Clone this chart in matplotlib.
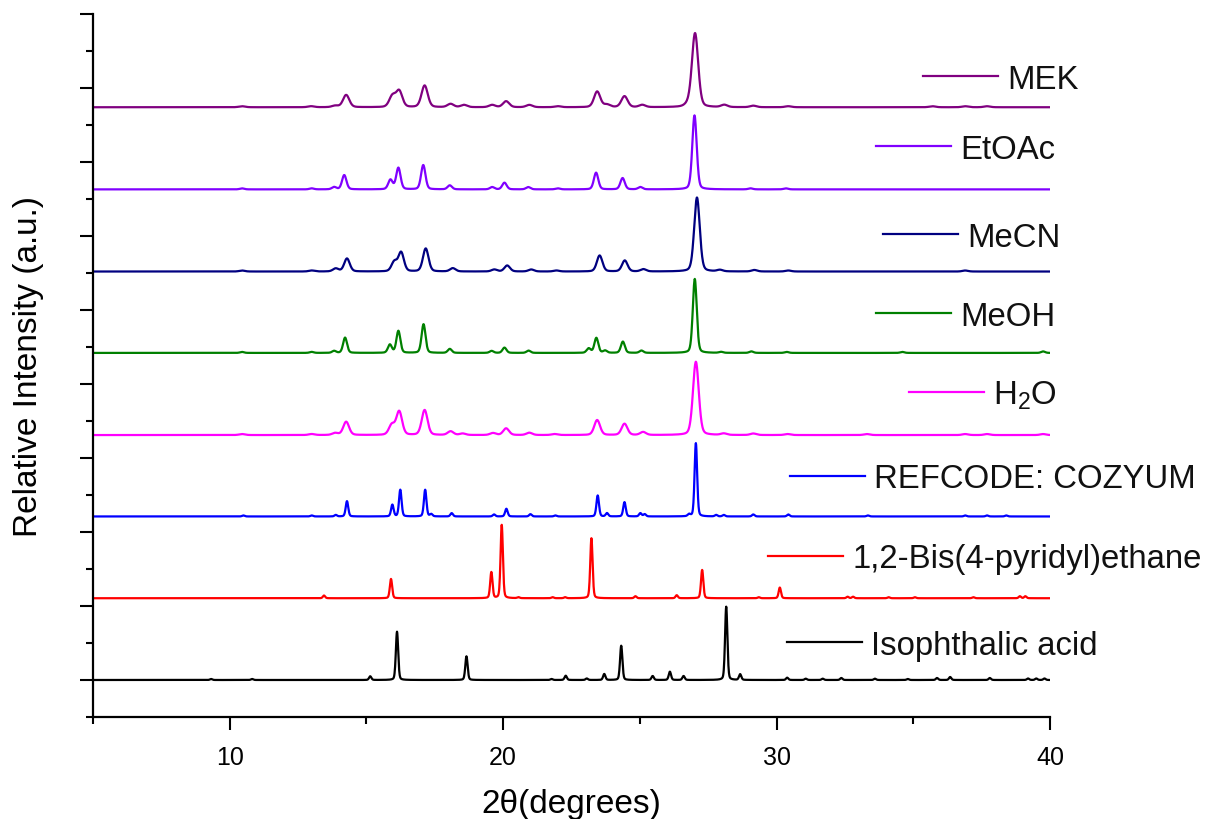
import numpy as np
import matplotlib
matplotlib.use("Agg")
import matplotlib.pyplot as plt
from matplotlib.ticker import MultipleLocator

plt.rcParams['font.family'] = ['Liberation Sans', 'DejaVu Sans']
plt.rcParams['mathtext.default'] = 'regular'

# ---------------- data ----------------
labels = ["MEK", "EtOAc", "MeCN", "MeOH", "H$_2$O", "REFCODE: COZYUM",
          "1,2-Bis(4-pyridyl)ethane", "Isophthalic acid"]
colors = ["#800080", "#8000FF", "#000080", "#008000", "#FF00FF", "#0000FF",
          "#FF0000", "#000000"]
# vertical offsets of each pattern (a.u.)
offsets = [7740, 6630, 5520, 4420, 3310, 2210, 1105, 0]
# peak FWHM of each pattern (degrees 2-theta)
fwhm = [0.27, 0.19, 0.24, 0.17, 0.25, 0.11, 0.1, 0.1]

mek_pos = [10.45, 12.98, 13.86, 14.26, 15.95, 16.2, 17.13, 18.08, 18.57, 19.6, 20.11,
           20.96, 22.0, 23.44, 23.8, 24.44, 25.09, 26.75, 27.02, 28.09, 29.15, 30.43,
           35.7, 36.9, 37.7]
mek_int = [1, 1, 1.5, 12.3, 11, 16, 21.7, 3.3, 2.3, 2.3, 6,
           2.3, 1, 15.7, 2.5, 11, 2.3, 2, 74, 2.3, 1.5, 1,
           1, 1, 1]

etoac_pos = [10.45, 13.0, 13.82, 14.19, 15.88, 16.17, 17.08, 18.05, 19.6, 20.05, 20.92,
             22.0, 23.4, 24.37, 25.02, 27.0, 29.05, 30.34]
etoac_int = [1, 1, 2.3, 14.3, 9.5, 21.5, 24.3, 4, 2.3, 6.7, 2.3,
             1, 16.7, 11.3, 2.3, 74, 1, 1]

mecn_pos = [10.45, 13.0, 13.88, 14.29, 16.02, 16.27, 17.17, 18.16, 19.68, 20.15, 21.03,
            21.95, 23.53, 24.45, 25.13, 27.09, 27.93, 29.19, 30.43, 36.9]
mecn_int = [1, 1, 3, 13, 9.5, 19, 23, 3.3, 2, 6, 2,
            1, 16, 11, 2.3, 74, 1.5, 1.5, 1, 1]

meoh_pos = [10.45, 13.0, 13.82, 14.22, 15.86, 16.17, 17.09, 18.05, 19.58, 20.05, 20.93,
            23.13, 23.41, 23.73, 24.38, 25.06, 27.01, 27.97, 29.08, 30.37, 34.6, 39.75]
meoh_int = [1, 1, 2, 15.3, 8.2, 22, 28.7, 4, 2, 5.3, 2.3,
            4.5, 15, 2.3, 11.3, 2.3, 74, 1, 1.5, 1, 1, 1.5]

h2o_pos = [10.45, 13.0, 13.86, 14.26, 15.93, 16.2, 17.13, 18.08, 18.52, 19.63, 20.11,
           20.96, 21.88, 23.44, 24.44, 25.12, 27.05, 28.07, 29.15, 30.4, 33.3, 36.9,
           37.7, 39.75]
h2o_int = [1, 1, 2, 13.3, 10, 23.5, 25, 3.7, 1.5, 2, 6.7,
           2.3, 1, 15, 11.3, 3, 73.3, 1.5, 1.5, 1, 1, 1,
           1, 1]

cozyum_pos = [10.5, 13.0, 13.88, 14.29, 15.95, 16.24, 17.15, 17.37, 18.12, 19.67, 20.12,
              21.0, 21.91, 23.46, 23.8, 24.44, 25.02, 25.18, 26.8, 27.05, 27.79, 28.07,
              29.15, 30.43, 33.34, 36.9, 37.7, 38.4]
cozyum_int = [1, 1, 1.5, 15.3, 11.7, 26.7, 26.7, 2.3, 3.3, 2, 7.7,
              2.3, 1, 21, 3.3, 14.3, 3.3, 2.3, 2, 73.3, 1.5, 1.5,
              2, 2, 1, 1, 1, 1]

bpe_pos = [13.45, 15.9, 19.57, 19.95, 20.56, 21.81, 22.27, 23.23, 24.84, 26.35, 27.28,
           29.35, 30.12, 32.6, 32.8, 34.1, 35.06, 37.2, 38.9, 39.1]
bpe_int = [2.7, 19.3, 26, 73.3, 1, 1, 1, 60, 2, 3, 28.3,
           1, 10.7, 1.5, 1.5, 1, 1, 1, 2, 2]

iso_pos = [9.32, 10.82, 15.14, 16.12, 18.66, 21.77, 22.29, 23.06, 23.7, 24.32, 25.47,
           26.1, 26.6, 28.16, 28.67, 30.39, 31.07, 31.69, 32.37, 33.6, 34.8, 35.87,
           36.35, 37.8, 39.2, 39.5, 39.8]
iso_int = [1, 1, 3.7, 48.3, 23.7, 1, 4.3, 1.5, 6, 34.3, 4,
           8.3, 4, 73.3, 5.7, 2.3, 1.3, 1.3, 2, 1.3, 1, 2,
           3, 2, 1.5, 1.5, 1.5]

peak_pos = [mek_pos, etoac_pos, mecn_pos, meoh_pos, h2o_pos, cozyum_pos, bpe_pos, iso_pos]
peak_int = [mek_int, etoac_int, mecn_int, meoh_int, h2o_int, cozyum_int, bpe_int, iso_int]

# legend-entry placement (axes fraction): line start, y
legend_x0 = [0.8673, 0.8182, 0.8255, 0.8182, 0.8527, 0.7283, 0.7053, 0.7252]
legend_y = [0.9117, 0.8120, 0.6866, 0.5741, 0.4630, 0.3433, 0.2293, 0.1068]

# ---------------- figure ----------------
x = np.linspace(5, 40, 3501)
scale = 1000 / 74.0


def pattern(pos, inten, w, eta=0.25):
    y = np.zeros_like(x)
    for p, h in zip(pos, inten):
        d = (x - p) / w
        g = np.exp(-4 * np.log(2) * d ** 2)
        lo = 1.0 / (1.0 + 4 * d ** 2)
        y += h * ((1 - eta) * g + eta * lo)
    return y


fig = plt.figure(figsize=(12.12, 8.2), dpi=100)
ax = fig.add_axes([0.0767, 0.1244, 0.7896, 0.8573])

for lab, col, off, w, pos, inten, lx, ly in zip(labels, colors, offsets, fwhm,
                                                 peak_pos, peak_int, legend_x0, legend_y):
    ax.plot(x, off + scale * pattern(pos, inten, w), color=col, lw=1.6)
    ax.plot([lx, lx + 0.0785], [ly, ly], color=col, lw=1.6,
            transform=ax.transAxes, clip_on=False)
    ax.text(lx + 0.0785 + 0.0095, ly - 0.0165, lab, transform=ax.transAxes,
            fontsize=23.7, color="#111111", va="baseline", ha="left", clip_on=False)

ax.set_xlim(5, 40)
ax.set_ylim(-500, 9000)
ax.xaxis.set_major_locator(MultipleLocator(10))
ax.xaxis.set_minor_locator(MultipleLocator(5))
ax.yaxis.set_major_locator(MultipleLocator(1000))
ax.yaxis.set_minor_locator(MultipleLocator(500))
ax.set_yticklabels([])
ax.tick_params(axis='both', which='major', direction='out', length=9.5, width=1.5,
               labelsize=18, pad=11)
ax.tick_params(axis='both', which='minor', direction='out', length=5, width=1.5)
for s in ['top', 'right']:
    ax.spines[s].set_visible(False)
for s in ['left', 'bottom']:
    ax.spines[s].set_linewidth(1.6)

ax.set_xlabel("2\u03b8(degrees)", fontsize=24)
ax.set_ylabel("Relative Intensity (a.u.)", fontsize=24)
ax.xaxis.set_label_coords(0.5, -0.101)
ax.yaxis.set_label_coords(-0.0512, 0.5)

fig.savefig("out.png", dpi=100)
